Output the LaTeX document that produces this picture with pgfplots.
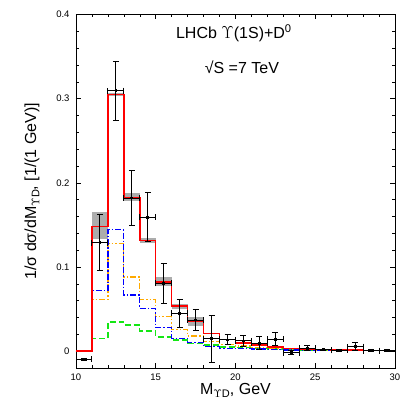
\documentclass[border=0pt]{standalone}
\usepackage{pgfplots}
\pgfplotsset{compat=1.18}
\usepackage{fontspec}
\setmainfont{Liberation Sans}
\definecolor{myorange}{RGB}{255,170,0}
\definecolor{mygreen}{RGB}{20,230,20}
\newcommand{\UD}{\raisebox{-0.4ex}{\fontsize{11}{12}\selectfont$\Upsilon$D}}
\begin{document}
\begin{tikzpicture}
\path[use as bounding box] (-76pt,-47pt) rectangle (339pt,368pt);
\begin{axis}[
  scale only axis, width=319pt, height=353.5pt,
  xmin=10, xmax=30, ymin=-0.02, ymax=0.4,
  xtick={10,15,20,25,30}, minor x tick num=4,
  ytick={0,0.1,0.2,0.3,0.4}, minor y tick num=4,
  yticklabels={0,0.1,0.2,0.3,0.4},
  tick align=inside, major tick length=5pt, minor tick length=3pt,
  tick style={black, line width=0.5pt},
  axis line style={line width=0.8pt},
  ticklabel style={font=\fontsize{9.5}{10}\selectfont},
  yticklabel style={xshift=-3pt},
  xticklabel style={yshift=-2pt},
  /pgf/number format/assume math mode=true,
  xlabel={M\UD, GeV},
  ylabel={1/σ dσ/dM\UD, [1/(1 GeV)]},
  label style={font=\fontsize{16}{17}\selectfont},
  xlabel style={yshift=4pt},
  ylabel style={yshift=10pt},
]
% gray band
\addplot[fill=gray!65, draw=none, forget plot] coordinates {(11,0.133) (12,0.133) (12,0.165) (11,0.165)} -- cycle;
\addplot[fill=gray!65, draw=none, forget plot] coordinates {(12,0.303) (13,0.303) (13,0.307) (12,0.307)} -- cycle;
\addplot[fill=gray!65, draw=none, forget plot] coordinates {(13,0.179) (14,0.179) (14,0.188) (13,0.188)} -- cycle;
\addplot[fill=gray!65, draw=none, forget plot] coordinates {(14,0.128) (15,0.128) (15,0.134) (14,0.134)} -- cycle;
\addplot[fill=gray!65, draw=none, forget plot] coordinates {(15,0.077) (16,0.077) (16,0.0885) (15,0.0885)} -- cycle;
\addplot[fill=gray!65, draw=none, forget plot] coordinates {(16,0.0498) (17,0.0498) (17,0.0557) (16,0.0557)} -- cycle;
\addplot[fill=gray!65, draw=none, forget plot] coordinates {(17,0.030) (18,0.030) (18,0.040) (17,0.040)} -- cycle;
% green
\addplot[const plot, mygreen, line width=1.3pt, dash pattern=on 6pt off 3pt] coordinates {
(10,0) (11,0.015) (12,0.0347) (13,0.031) (14,0.024) (15,0.017) (16,0.0134) (17,0.0095) (18,0.0075) (19,0.005) (20,0.004) (21,0.003) (22,0.0025) (23,0.002) (24,0.0015) (25,0.001) (26,0.001) (27,0.0008) (28,0.0006) (29,0.0005) (30,0.0005)};
% orange
\addplot[const plot, myorange, line width=1.3pt, dash pattern=on 6pt off 2pt on 1.5pt off 2pt on 1.5pt off 2pt] coordinates {
(10,0) (11,0.0616) (12,0.1276) (13,0.088) (14,0.0616) (15,0.041) (16,0.026) (17,0.018) (18,0.0115) (19,0.0083) (20,0.006) (21,0.0045) (22,0.0035) (23,0.0025) (24,0.002) (25,0.0015) (26,0.0012) (27,0.001) (28,0.0008) (29,0.0006) (30,0.0006)};
% blue
\addplot[const plot, blue, line width=1.3pt, dash pattern=on 6pt off 2pt on 1.5pt off 2pt] coordinates {
(10,0) (11,0.072) (12,0.1445) (13,0.0667) (14,0.0506) (15,0.028) (16,0.0154) (17,0.0103) (18,0.0055) (19,0.0035) (20,0.003) (21,0.0025) (22,0.002) (23,0.0015) (24,0.0012) (25,0.001) (26,0.0008) (27,0.0006) (28,0.0005) (29,0.0004) (30,0.0004)};
% red total
\addplot[const plot, red, line width=1.5pt] coordinates {
(10,0) (11,0.148) (12,0.305) (13,0.182) (14,0.1315) (15,0.082) (16,0.0537) (17,0.036) (18,0.021) (19,0.0137) (20,0.0095) (21,0.0075) (22,0.005) (23,0.003) (24,0.0025) (25,0.002) (26,0.0015) (27,0.0012) (28,0.001) (29,0.0008) (30,0.0008)};
% data
\addplot[black, line width=0.9pt, only marks, mark=square*, mark size=0.9pt,
  error bars/.cd, x dir=both, x explicit, y dir=both, y explicit,
  error bar style={line width=0.9pt}, error mark options={rotate=90, mark size=3pt, line width=0.9pt}]
coordinates {
(10.5,-0.0095) +- (0.5,0.001)
(11.5,0.129) +- (0.5,0.033)
(12.5,0.3096) +- (0.5,0.035)
(13.5,0.182) +- (0.5,0.033)
(14.5,0.159) +- (0.5,0.029)
(15.5,0.0806) +- (0.5,0.024)
(16.5,0.045) +- (0.5,0.017)
(17.5,0.037) +- (0.5,0.012)
(18.5,0.015) +- (0.5,0.028)
(19.5,0.0134) +- (0.5,0.006)
(20.5,0.0122) +- (0.5,0.007)
(21.5,0.0095) +- (0.5,0.0075)
(22.5,0.0142) +- (0.5,0.008)
(23.5,-0.0016) +- (0.5,0.002)
(24.5,0.0035) +- (0.5,0.003)
(25.5,0.0016) +- (0.5,0.001)
(26.5,0.001) +- (0.5,0.001)
(27.5,0.0055) +- (0.5,0.0045)
(28.5,0.0005) +- (0.5,0.001)
(29.5,0.0005) +- (0.5,0.001)
};
\node[anchor=base, font=\fontsize{16}{17}\selectfont] at (axis cs:19.9,0.371) {LHCb $\Upsilon$(1S)+D$^{\mathrm{0}}$};
\node[anchor=base, font=\fontsize{16}{17}\selectfont] at (axis cs:20.4,0.330) {√S =7 TeV};
\end{axis}
\end{tikzpicture}
\end{document}
